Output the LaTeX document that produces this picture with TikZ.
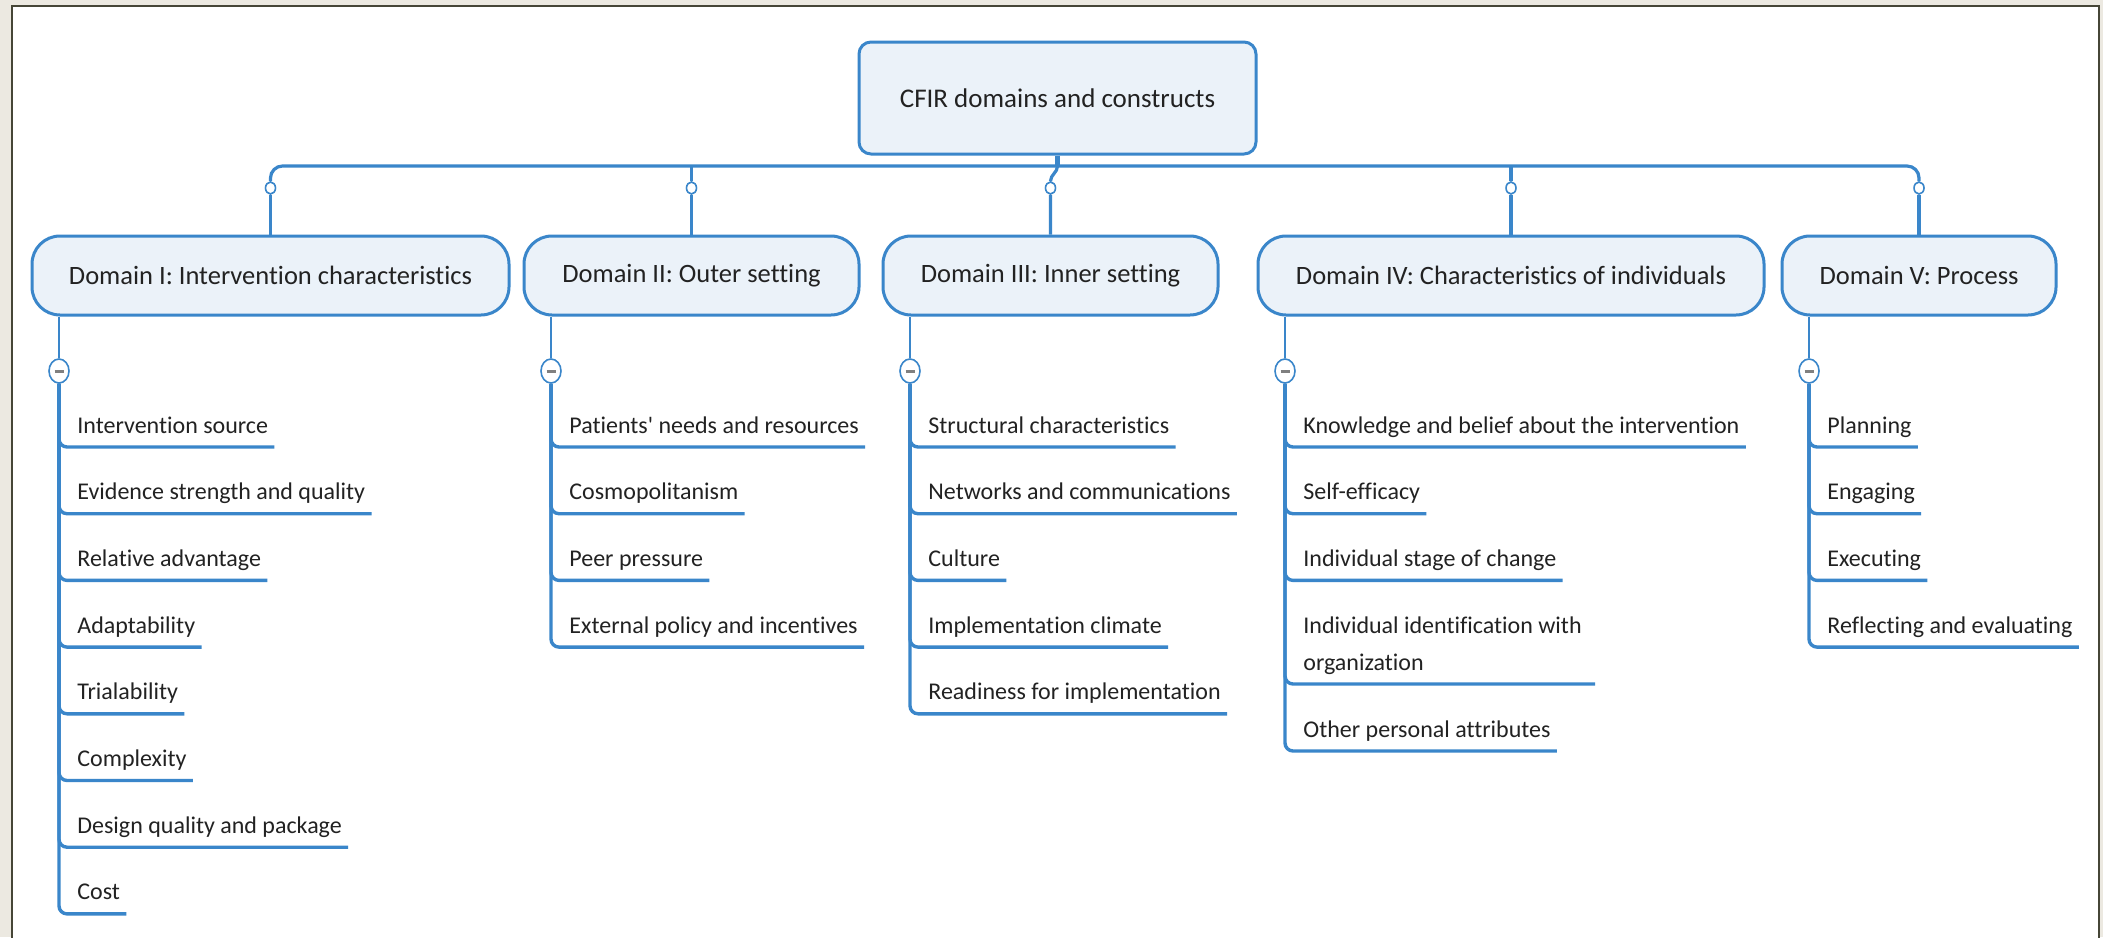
\documentclass[tikz,border=0pt]{standalone}
\usepackage{fontspec}
\setmainfont{Carlito}[Ligatures=NoCommon]
\usetikzlibrary{positioning,shapes.geometric}

\definecolor{mapblue}{RGB}{58,134,202}
\definecolor{mapfill}{RGB}{235,242,249}
\definecolor{maptext}{RGB}{34,34,34}
\definecolor{paper}{RGB}{236,233,225}
\definecolor{framecol}{RGB}{70,70,55}

\tikzset{
  topic/.style={draw=mapblue, line width=1.5pt, fill=mapfill, rounded corners=6pt,
    minimum width=198.5pt, minimum height=56pt, font=\fontsize{13.5}{16}\selectfont, text=maptext},
  dombox/.style={draw=mapblue, line width=1.5pt, fill=mapfill, rounded corners=14pt,
    minimum height=39.5pt, inner xsep=4pt, font=\fontsize{13.25}{16}\selectfont, text=maptext},
  leaf/.style={anchor=base west, inner sep=0pt, align=left,
    font=\fontsize{12}{18.5}\selectfont, text=maptext},
  knob/.style={ellipse, draw=mapblue, line width=0.8pt, fill=white,
    minimum width=5pt, minimum height=6pt, inner sep=0pt},
  fold/.style={ellipse, draw=mapblue, line width=0.8pt, fill=white,
    minimum width=10pt, minimum height=12pt, inner sep=0pt},
  trunk/.style={draw=mapblue, line width=1.6pt, rounded corners=6pt},
  twig/.style={draw=mapblue, line width=1.7pt, rounded corners=4pt},
}
\newcommand{\foldmark}{\textcolor{gray}{\rule{4.5pt}{1.5pt}}}

\begin{document}
\begin{tikzpicture}[x=0.5pt, y=-0.5pt]
  \useasboundingbox (0,0) rectangle (2103,937);
  % backdrop
  \fill[paper] (0,0) rectangle (2103,937);
  \filldraw[fill=white, draw=framecol, line width=1pt] (12,6) rectangle (2099,960);

  % root and domains
  \node[topic] (cfir) at (1057.5,98) {CFIR domains and constructs};
  \node[dombox, minimum width=238.5pt] (dom1) at (270.5,275.5) {Domain I: Intervention characteristics};
  \node[dombox, minimum width=167.5pt] (dom2) at (691.5,275.5) {Domain II: Outer setting};
  \node[dombox, minimum width=167.5pt] (dom3) at (1050.5,275.5) {Domain III: Inner setting};
  \node[dombox, minimum width=253pt] (dom4) at (1511,275.5) {Domain IV: Characteristics of individuals};
  \node[dombox, minimum width=137pt] (dom5) at (1919,275.5) {Domain V: Process};

  % bus
  \coordinate (hub) at (1057.5,166);
  \node[knob] (knob1) at (270.5,188) {};
  \node[knob] (knob2) at (691.5,188) {};
  \node[knob] (knob3) at (1050.5,188) {};
  \node[knob] (knob4) at (1511,188) {};
  \node[knob] (knob5) at (1919,188) {};
  \draw[trunk] (knob1) -- (knob1 |- hub) -- (knob5 |- hub) -- (knob5);
  \draw[trunk] (dom1) -- (knob1);
  \draw[trunk] (dom5) -- (knob5);
  \draw[trunk] (dom2) -- (knob2) -- (knob2 |- hub);
  \draw[trunk] (dom4) -- (knob4) -- (knob4 |- hub);
  \draw[trunk] (dom3) -- (knob3) to[out=90, in=-90] (hub);
  \draw[mapblue, line width=2.2pt] (cfir) -- (hub);

  % collapse buttons
  \node[fold] (fold1) at (59,371) {\foldmark};
  \node[fold] (fold2) at (551,371) {\foldmark};
  \node[fold] (fold3) at (910,371) {\foldmark};
  \node[fold] (fold4) at (1285,371) {\foldmark};
  \node[fold] (fold5) at (1809,371) {\foldmark};
  \draw[mapblue, line width=1.2pt] (fold1 |- dom1.south) -- (fold1);
  \draw[mapblue, line width=1.2pt] (fold2 |- dom2.south) -- (fold2);
  \draw[mapblue, line width=1.2pt] (fold3 |- dom3.south) -- (fold3);
  \draw[mapblue, line width=1.2pt] (fold4 |- dom4.south) -- (fold4);
  \draw[mapblue, line width=1.2pt] (fold5 |- dom5.south) -- (fold5);

  % Domain I
  \node[leaf] (c11) at (77,433) {Intervention source};
  \node[leaf] (c12) at ([yshift=-33.35pt]c11.base west) {Evidence strength and quality};
  \node[leaf] (c13) at ([yshift=-33.35pt]c12.base west) {Relative advantage};
  \node[leaf] (c14) at ([yshift=-33.35pt]c13.base west) {Adaptability};
  \node[leaf] (c15) at ([yshift=-33.35pt]c14.base west) {Trialability};
  \node[leaf] (c16) at ([yshift=-33.35pt]c15.base west) {Complexity};
  \node[leaf] (c17) at ([yshift=-33.35pt]c16.base west) {Design quality and package};
  \node[leaf] (c18) at ([yshift=-33.35pt]c17.base west) {Cost};

  % Domain II
  \node[leaf] (c21) at (569,433) {Patients\textquotesingle{} needs and resources};
  \node[leaf] (c22) at ([yshift=-33.35pt]c21.base west) {Cosmopolitanism};
  \node[leaf] (c23) at ([yshift=-33.35pt]c22.base west) {Peer pressure};
  \node[leaf] (c24) at ([yshift=-33.35pt]c23.base west) {External policy and incentives};

  % Domain III
  \node[leaf] (c31) at (928,433) {Structural characteristics};
  \node[leaf] (c32) at ([yshift=-33.35pt]c31.base west) {Networks and communications};
  \node[leaf] (c33) at ([yshift=-33.35pt]c32.base west) {Culture};
  \node[leaf] (c34) at ([yshift=-33.35pt]c33.base west) {Implementation climate};
  \node[leaf] (c35) at ([yshift=-33.35pt]c34.base west) {Readiness for implementation};

  % Domain IV (two-line node: base is its last line)
  \node[leaf] (c41) at (1303,433) {Knowledge and belief about the intervention};
  \node[leaf] (c42) at ([yshift=-33.35pt]c41.base west) {Self-efficacy};
  \node[leaf] (c43) at ([yshift=-33.35pt]c42.base west) {Individual stage of change};
  \node[leaf] (c44) at ([yshift=-51.8pt]c43.base west) {Individual identification with\\organization};
  \node[leaf] (c45) at ([yshift=-33.5pt]c44.base west) {Other personal attributes};

  % Domain V
  \node[leaf] (c51) at (1827,433) {Planning};
  \node[leaf] (c52) at ([yshift=-33.35pt]c51.base west) {Engaging};
  \node[leaf] (c53) at ([yshift=-33.35pt]c52.base west) {Executing};
  \node[leaf] (c54) at ([yshift=-33.35pt]c53.base west) {Reflecting and evaluating};

  % underlines
  \draw[twig] (fold1) |- ([shift={(3pt,-7pt)}]c11.base east);
  \draw[twig] (fold1) |- ([shift={(3pt,-7pt)}]c12.base east);
  \draw[twig] (fold1) |- ([shift={(3pt,-7pt)}]c13.base east);
  \draw[twig] (fold1) |- ([shift={(3pt,-7pt)}]c14.base east);
  \draw[twig] (fold1) |- ([shift={(3pt,-7pt)}]c15.base east);
  \draw[twig] (fold1) |- ([shift={(3pt,-7pt)}]c16.base east);
  \draw[twig] (fold1) |- ([shift={(3pt,-7pt)}]c17.base east);
  \draw[twig] (fold1) |- ([shift={(3pt,-7pt)}]c18.base east);
  \draw[twig] (fold2) |- ([shift={(3pt,-7pt)}]c21.base east);
  \draw[twig] (fold2) |- ([shift={(3pt,-7pt)}]c22.base east);
  \draw[twig] (fold2) |- ([shift={(3pt,-7pt)}]c23.base east);
  \draw[twig] (fold2) |- ([shift={(3pt,-7pt)}]c24.base east);
  \draw[twig] (fold3) |- ([shift={(3pt,-7pt)}]c31.base east);
  \draw[twig] (fold3) |- ([shift={(3pt,-7pt)}]c32.base east);
  \draw[twig] (fold3) |- ([shift={(3pt,-7pt)}]c33.base east);
  \draw[twig] (fold3) |- ([shift={(3pt,-7pt)}]c34.base east);
  \draw[twig] (fold3) |- ([shift={(3pt,-7pt)}]c35.base east);
  \draw[twig] (fold4) |- ([shift={(3pt,-7pt)}]c41.base east);
  \draw[twig] (fold4) |- ([shift={(3pt,-7pt)}]c42.base east);
  \draw[twig] (fold4) |- ([shift={(3pt,-7pt)}]c43.base east);
  \draw[twig] (fold4) |- ([shift={(6.5pt,-7pt)}]c44.base east);
  \draw[twig] (fold4) |- ([shift={(3pt,-7pt)}]c45.base east);
  \draw[twig] (fold5) |- ([shift={(3pt,-7pt)}]c51.base east);
  \draw[twig] (fold5) |- ([shift={(3pt,-7pt)}]c52.base east);
  \draw[twig] (fold5) |- ([shift={(3pt,-7pt)}]c53.base east);
  \draw[twig] (fold5) |- ([shift={(3pt,-7pt)}]c54.base east);
\end{tikzpicture}
\end{document}
